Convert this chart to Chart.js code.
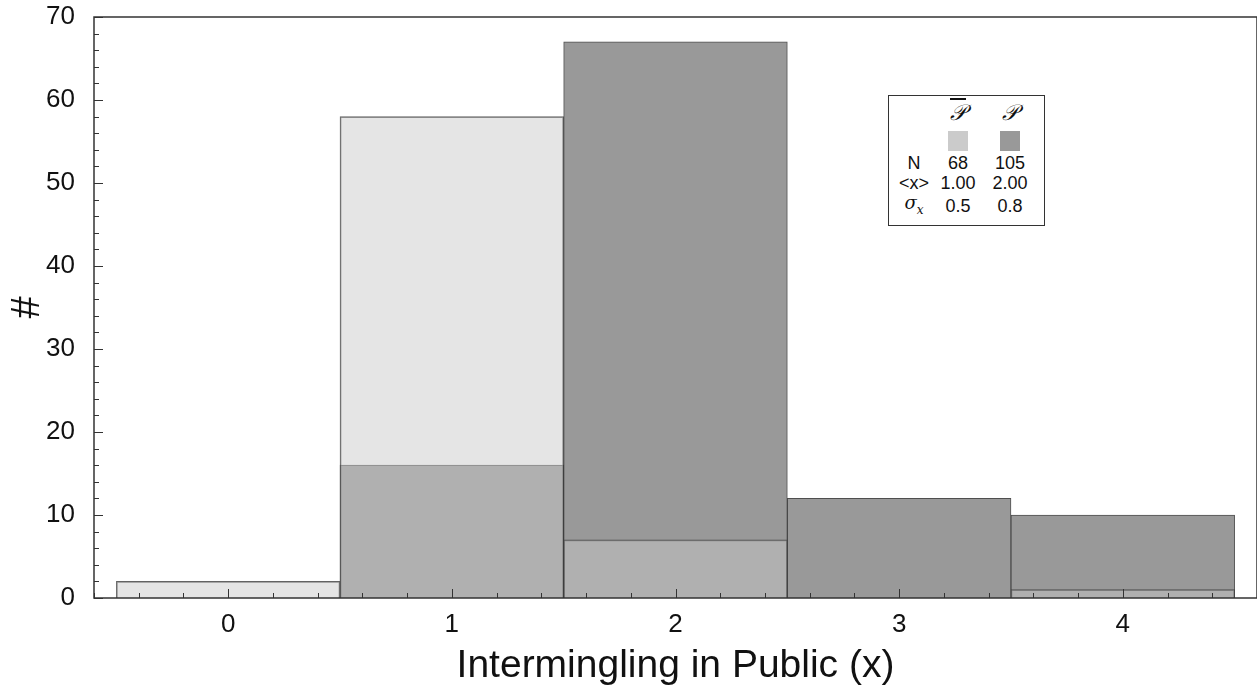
<!doctype html>
<html lang="en">
  <head>
    <meta charset="utf-8">
    <script src="https://cdn.jsdelivr.net/npm/chart.js"></script>
    <title>Intermingling in Public</title>
    <style>
      body { margin: 0; background: #fff; }
      #wrap { position: relative; width: 1257px; height: 687px; }
      #key {
        position: absolute; left: 888px; top: 95px; width: 157px; height: 131px;
        border: 1.5px solid #333; background: #fff; box-sizing: border-box;
        font-family: "Liberation Sans", Arial, sans-serif; font-size: 18px; color: #111;
      }
      #key table { border-collapse: collapse; position: absolute; left: 7px; top: 3px; }
      #key td { text-align: center; padding: 0; height: 20px; line-height: 20px; }
      #key td.c1 { width: 36px; }
      #key td.c2 { width: 52px; }
      #key td.c3 { width: 52px; }
      .sw { display: inline-block; width: 20px; height: 20px; vertical-align: middle; }
      .scr { font-family: "DejaVu Serif", serif; font-style: italic; font-size: 22px; }
      .bar { text-decoration: overline; }
    </style>
  </head>
  <body>
    <div id="wrap">
      <canvas id="hist" width="1257" height="687"></canvas>
      <div id="key">
        <table>
          <tr style="height:28px"><td class="c1"></td><td class="c2"><span class="scr bar">𝒫</span></td><td class="c3"><span class="scr">𝒫</span></td></tr>
          <tr style="height:26px"><td></td><td><span class="sw" style="background:#cbcbcb"></span></td><td><span class="sw" style="background:#999"></span></td></tr>
          <tr><td>N</td><td>68</td><td>105</td></tr>
          <tr><td>&lt;x&gt;</td><td>1.00</td><td>2.00</td></tr>
          <tr><td><i style="font-family:'DejaVu Serif',serif">σ<sub style="font-size:12px">x</sub></i></td><td>0.5</td><td>0.8</td></tr>
        </table>
      </div>
    </div>

   <script>
    // values
    const categories = [0, 1, 2, 3, 4];
    const pBar = [2, 58, 7, 0, 1];    // light series (P-bar, N = 68)
    const pSet = [0, 16, 67, 12, 10]; // dark series (P, N = 105)
    const yTicks = [0, 10, 20, 30, 40, 50, 60, 70];

    const toPoints = vals => categories.map((c, i) => ({x: c, y: vals[i] === 0 ? null : vals[i]}));

    // inward ticks + frame, drawn over the bars
    const frame = {
      id: 'frame',
      afterDatasetsDraw(chart) {
        const ctx = chart.ctx, a = chart.chartArea;
        const xs = chart.scales.x, ys = chart.scales.y;
        ctx.save();
        ctx.strokeStyle = '#333';
        ctx.lineWidth = 1;
        ctx.beginPath();
        for (let k = -3; k <= 23; k++) {
          const r = k / 5;
          const major = k % 5 === 0;
          const px = Math.round(xs.getPixelForValue(r)) + 0.5;
          ctx.moveTo(px, a.bottom);
          ctx.lineTo(px, a.bottom - (major ? 9 : 5));
        }
        for (let v = 0; v <= 70; v += 2) {
          const major = v % 10 === 0;
          const py = Math.round(ys.getPixelForValue(v)) + 0.5;
          ctx.moveTo(a.left, py);
          ctx.lineTo(a.left + (major ? 9 : 5), py);
        }
        ctx.stroke();
        ctx.lineWidth = 1.5;
        ctx.strokeRect(a.left, a.top, a.right - a.left, a.bottom - a.top);
        ctx.restore();
      }
    };

    new Chart(document.getElementById('hist'), {
      type: 'bar',
      data: {
        datasets: [{
          label: 'P\u0305',
          data: toPoints(pBar),
          backgroundColor: 'rgba(200, 200, 200, 0.48)',
          borderColor: 'rgba(60, 60, 60, 0.8)',
          borderWidth: 1,
          grouped: false,
          barPercentage: 1,
          categoryPercentage: 1
        }, {
          label: 'P',
          data: toPoints(pSet),
          backgroundColor: 'rgb(153, 153, 153)',
          borderColor: 'rgba(60, 60, 60, 0.9)',
          borderWidth: 1,
          grouped: false,
          barPercentage: 1,
          categoryPercentage: 1
        }]
      },
      options: {
        responsive: false,
        animation: false,
        layout: { padding: { top: 17, right: 0, left: 0, bottom: 0 } },
        plugins: { legend: { display: false }, tooltip: { enabled: false } },
        scales: {
          x: {
            type: 'linear',
            min: -0.6,
            max: 4.6,
            offset: false,
            grid: { display: false },
            border: { display: false },
            afterBuildTicks: s => { s.ticks = categories.map(v => ({value: v})); },
            afterFit: s => { s.height = 89; s.paddingLeft = 0; s.paddingRight = 0; },
            ticks: { color: '#111', padding: 3, font: { family: 'Liberation Sans', size: 26 } },
            title: {
              display: true, text: 'Intermingling in Public (x)', color: '#111',
              font: { family: 'Liberation Sans', size: 39 }, padding: { top: 4, bottom: -3 }
            }
          },
          y: {
            min: 0,
            max: 70,
            grid: { display: false },
            border: { display: false },
            afterBuildTicks: s => { s.ticks = yTicks.map(v => ({value: v})); },
            afterFit: s => { s.width = 94; s.paddingTop = 0; s.paddingBottom = 0; },
            ticks: { color: '#111', padding: 11, font: { family: 'Liberation Sans', size: 26 } },
            title: {
              display: true, text: '#', color: '#111',
              font: { family: 'Liberation Sans', size: 40 }, padding: { bottom: 0, top: 4 }
            }
          }
        }
      },
      plugins: [frame]
    });
   </script>
  </body>
</html>
